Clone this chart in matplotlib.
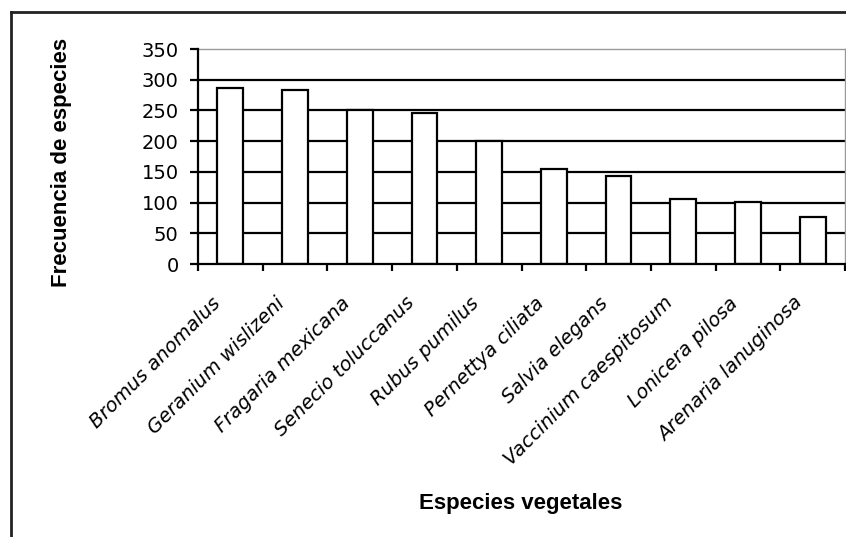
import matplotlib
matplotlib.use("Agg")
import matplotlib.pyplot as plt
import numpy as np
from matplotlib.lines import Line2D
from matplotlib.transforms import ScaledTranslation

species = ["Bromus anomalus", "Geranium wislizeni", "Fragaria mexicana",
           "Senecio toluccanus", "Rubus pumilus", "Pernettya ciliata",
           "Salvia elegans", "Vaccinium caespitosum", "Lonicera pilosa",
           "Arenaria lanuginosa"]
frequency = [287, 283, 250, 246, 201, 154, 143, 106, 101, 77]
yticks = [0, 50, 100, 150, 200, 250, 300, 350]

W, H = 846, 537
fig = plt.figure(figsize=(W / 100, H / 100), dpi=100)
fig.patch.set_facecolor("white")

ax = fig.add_axes([198 / W, (H - 264) / H, (845 - 198) / W, (264 - 49) / H])

x = np.arange(len(species))
ax.set_xlim(-0.5, len(species) - 0.5)
ax.set_ylim(0, 350)

for v in yticks[1:-1]:
    ax.axhline(v, color="black", lw=1.6, zorder=1)

ax.bar(x, frequency, width=0.4, color="white", edgecolor="black", lw=1.6, zorder=2)

for s in ["top", "right"]:
    ax.spines[s].set_color("#999999")
    ax.spines[s].set_linewidth(1.0)
for s in ["left", "bottom"]:
    ax.spines[s].set_color("black")
    ax.spines[s].set_linewidth(1.6)
    ax.spines[s].set_zorder(3)

ax.set_yticks(yticks)
ax.set_yticklabels([str(v) for v in yticks], fontsize=14, family="DejaVu Sans")
ax.tick_params(axis="y", direction="out", length=6, width=1.6, pad=8)

ax.set_xticks(x)
ax.set_xticklabels(species, rotation=45, ha="right", va="center",
                   rotation_mode="anchor", fontsize=14, style="italic",
                   family="DejaVu Sans")
ax.tick_params(axis="x", which="major", length=0, pad=26)
ax.set_xticks(np.arange(-0.5, len(species) + 0.5, 1), minor=True)
ax.tick_params(axis="x", which="minor", direction="out", length=5, width=1.6)
off = ScaledTranslation(-13 / 100, 0, fig.dpi_scale_trans)
for lab in ax.get_xticklabels():
    lab.set_transform(lab.get_transform() + off)

fig.text(521 / W, 1 - 503 / H, "Especies vegetales", ha="center", va="center",
         fontsize=16, fontweight="bold", family="Liberation Sans")
fig.text(61 / W, 1 - 162 / H, "Frecuencia de especies", ha="center", va="center",
         rotation=90, fontsize=16, fontweight="bold", family="Liberation Sans")

# outer frame (left and top edges visible)
fig.add_artist(Line2D([11 / W, 11 / W], [0, 1 - 12 / H], transform=fig.transFigure,
                      color="#222222", lw=2))
fig.add_artist(Line2D([11 / W, 1], [1 - 12 / H, 1 - 12 / H], transform=fig.transFigure,
                      color="#222222", lw=2))

fig.savefig("out.png", dpi=100, facecolor="white")
